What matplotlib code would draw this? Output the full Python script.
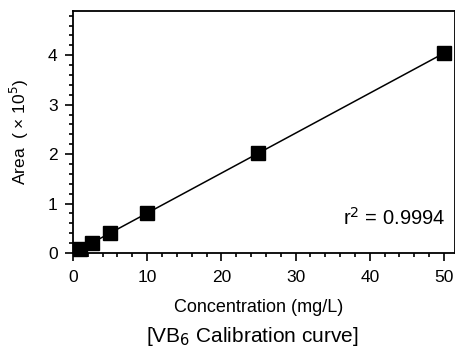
import matplotlib.pyplot as plt
import numpy as np
from matplotlib.ticker import MultipleLocator

plt.rcParams['font.family'] = ['Liberation Sans', 'DejaVu Sans']

# données
conc = [1, 2.5, 5, 10, 25, 50]
area = [0.08, 0.20, 0.40, 0.81, 2.02, 4.04]
r2_text = "r$^2$ = 0.9994"

fig = plt.figure(figsize=(4.56, 3.49), dpi=100)
ax = fig.add_axes([0.160, 0.275, 0.838, 0.693])

# droite de régression
coef = np.polyfit(conc, area, 1)
xfit = np.array([conc[0], conc[-1]])
ax.plot(xfit, np.polyval(coef, xfit), color='black', linewidth=1.1, zorder=2)
ax.plot(conc, area, linestyle='none', marker='s', markersize=10.5,
        color='black', zorder=3, clip_on=False)

ax.set_xlim(0, 51.5)
ax.set_ylim(0, 4.89)
ax.xaxis.set_major_locator(MultipleLocator(10))
ax.xaxis.set_minor_locator(MultipleLocator(2))
ax.yaxis.set_major_locator(MultipleLocator(1))
ax.yaxis.set_minor_locator(MultipleLocator(0.2))
ax.tick_params(axis='both', which='major', direction='out', length=6, width=1.2,
               labelsize=12.5)
ax.tick_params(axis='x', which='major', pad=6)
ax.tick_params(axis='y', which='major', pad=5)
ax.tick_params(axis='both', which='minor', direction='out', length=3, width=1.2)
for sp in ax.spines.values():
    sp.set_linewidth(1.3)

ax.set_xlabel("Concentration (mg/L)", fontsize=13)
ax.xaxis.set_label_coords(0.487, -0.19)
ax.set_ylabel("Area  ( \u00d7 10$^5$)", fontsize=12.5, labelpad=12)
ax.text(0.975, 0.145, r2_text, transform=ax.transAxes, ha='right', va='center',
        fontsize=14.5)
fig.text(0.553, 0.035, "[VB$_6$ Calibration curve]", ha='center', va='center',
         fontsize=15)

fig.savefig("out.png", dpi=100)
